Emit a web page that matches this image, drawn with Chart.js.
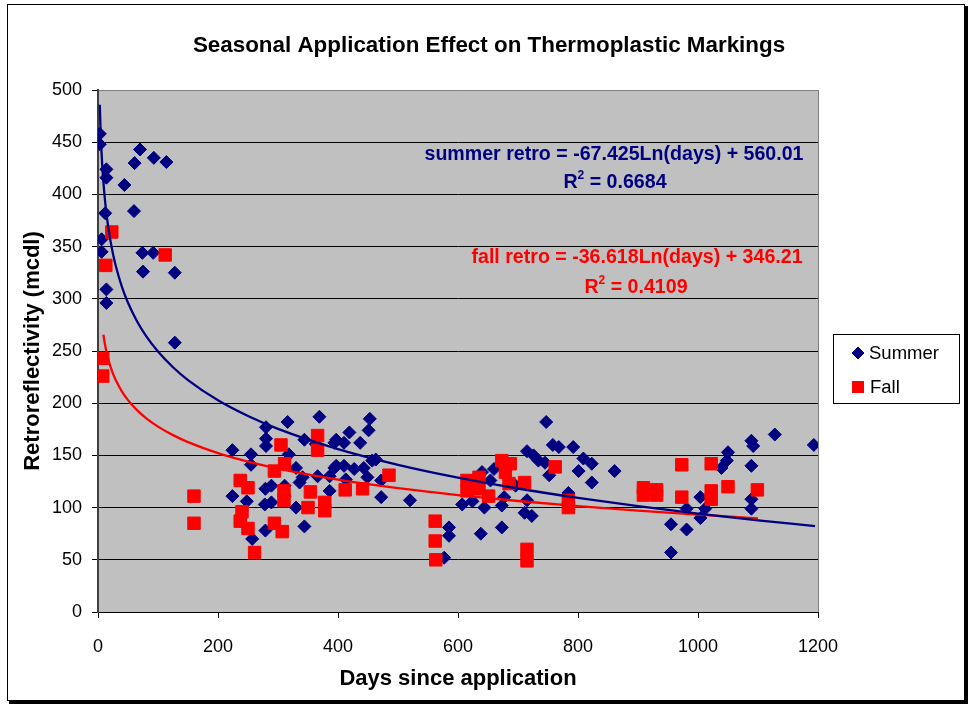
<!DOCTYPE html>
<html>
<head>
<meta charset="utf-8">
<title>Seasonal Application Effect on Thermoplastic Markings</title>
<script src="https://cdn.jsdelivr.net/npm/chart.js@4.4.1/dist/chart.umd.min.js"></script>
<style>
  html, body { margin: 0; padding: 0; background: #fff; }
  #wrap { position: relative; width: 971px; height: 705px; }
</style>
</head>
<body>
<div id="wrap"><canvas id="retroChart"></canvas></div>
<script>
// === Data ===
const summerDays = [3, 3, 14, 14, 44, 70, 61, 93, 114, 12, 60, 6, 6, 74, 92, 75, 128, 14, 14, 128,
  224, 224, 255, 255, 248, 257, 280, 280, 280, 316, 279, 289, 278, 289, 279, 311, 311, 318, 330, 330,
  344, 344, 369, 363, 341, 366, 386, 394, 394, 386, 336,
  453, 451, 397, 419, 410, 437, 397, 410, 427, 443, 463, 449, 472, 413, 472, 520, 457,
  585, 585, 577, 638, 673, 607, 644, 673, 711, 723, 624, 677, 715,
  747, 758, 768, 792, 715, 726, 734, 745, 752, 809, 801, 823, 823, 861, 660, 640, 654, 784, 696,
  955, 955, 981, 981, 1004, 1004, 1012, 1039, 1048, 1050, 1089, 1092, 1089, 1089, 1089, 1128, 1193];
const summerRetro = [458, 448, 424, 416, 409, 443, 430, 435, 431, 382, 384, 357, 345, 344, 344, 326, 325, 309, 296, 258,
  155, 111, 151, 141, 106, 70, 177, 166, 159, 182, 118, 121, 103, 105, 78, 121, 111, 151, 138, 100,
  82, 165, 187, 161, 129, 130, 130, 138, 162, 116, 124,
  185, 174, 165, 172, 162, 162, 140, 140, 137, 138, 146, 129, 126, 127, 110, 107, 145,
  81, 73, 52, 75, 81, 103, 100, 102, 95, 92, 106, 110, 107,
  182, 160, 158, 158, 154, 150, 145, 143, 131, 147, 135, 142, 124, 135, 137, 134, 126, 114, 121,
  57, 84, 79, 99, 110, 90, 99, 138, 145, 153, 164, 159, 140, 108, 99, 170, 160];

const fallDays = [23, 112, 13, 8, 8,
  160, 160, 237, 250, 240, 237, 250, 261, 305, 311, 294, 310, 310, 294, 307, 366, 366, 354, 350, 378, 378,
  485, 412, 441,
  562, 562, 563, 715, 715,
  673, 687, 679, 685, 615, 615, 635, 635, 651, 711, 762, 784, 784,
  909, 909, 931, 931, 973, 973, 1022, 1022, 1022, 1050, 1099];
const fallRetro = [364, 342, 332, 243, 226,
  111, 85, 126, 119, 96, 87, 80, 57, 160, 142, 135, 116, 107, 85, 77, 169, 155, 115, 100, 105, 97,
  131, 117, 118,
  87, 68, 50, 60, 49,
  145, 142, 134, 123, 126, 116, 129, 118, 111, 124, 139, 107, 100,
  119, 112, 117, 112, 141, 110, 142, 116, 108, 120, 117];

// trendline coefficients printed on the chart: retro = a * ln(days) + b
const summerFit = { a: -67.425, b: 560.01, r2: "0.6684", from: 3, to: 1195 };
const fallFit = { a: -36.618, b: 346.21, r2: "0.4109", from: 9, to: 1100 };
const trendDays = [3, 4, 5, 6, 7, 8, 9, 10, 12, 14, 17, 20, 25, 30, 40, 50, 65, 80, 100, 125, 150,
  200, 250, 300, 400, 500, 600, 700, 800, 900, 1000, 1100, 1195];

const xTicks = [0, 200, 400, 600, 800, 1000, 1200];
const yTicks = [0, 50, 100, 150, 200, 250, 300, 350, 400, 450, 500];

const NAVY = "#000080";
const RED = "#FF0000";
const FONT = "'Liberation Sans', Arial, sans-serif";

function toPoints(xs, ys) {
  return xs.map((x, i) => ({ x: x, y: ys[i] }));
}

function trendPoints(fit) {
  return trendDays
    .filter((d) => d >= fit.from && d <= fit.to)
    .concat([fit.to])
    .filter((d, i, arr) => arr.indexOf(d) === i)
    .map((d) => ({ x: d, y: fit.a * Math.log(d) + fit.b }));
}

// === Frame, title, equations and legend ===
const decorPlugin = {
  id: "decor",
  beforeDraw(chart) {
    const ctx = chart.ctx;
    ctx.save();
    ctx.fillStyle = "#fff";
    ctx.fillRect(0, 0, chart.width, chart.height);
    ctx.strokeStyle = "#000";
    ctx.lineWidth = 1;
    ctx.strokeRect(7.5, 4.5, 957, 696);
    ctx.fillStyle = "#000";
    ctx.fillRect(964, 6, 4, 698);
    ctx.fillRect(9, 700, 959, 4);
    // plot area background
    const a = chart.chartArea;
    ctx.fillStyle = "#C0C0C0";
    ctx.fillRect(a.left, a.top, a.right - a.left, a.bottom - a.top);
    ctx.restore();
  },
  afterDraw(chart) {
    const ctx = chart.ctx;
    ctx.save();
    ctx.textAlign = "center";
    ctx.textBaseline = "middle";
    ctx.fillStyle = "#000";
    ctx.font = "bold 22.4px " + FONT;
    ctx.fillText("Seasonal Application Effect on Thermoplastic Markings", 489, 46);

    ctx.font = "bold 19.6px " + FONT;
    ctx.fillStyle = NAVY;
    ctx.fillText("summer retro = -67.425Ln(days) + 560.01", 614, 155);
    drawR2(ctx, summerFit.r2, 615, 183);
    ctx.fillStyle = RED;
    ctx.fillText("fall retro = -36.618Ln(days) + 346.21", 637, 258);
    drawR2(ctx, fallFit.r2, 636, 288);

    // legend box
    ctx.strokeStyle = "#000";
    ctx.lineWidth = 1;
    ctx.strokeRect(833.5, 334.5, 126, 69);
    ctx.fillStyle = NAVY;
    ctx.strokeStyle = NAVY;
    Chart.helpers.drawPoint(ctx, { pointStyle: "rectRot", radius: 6, borderWidth: 1, rotation: 0 }, 858, 353);
    ctx.fillStyle = RED;
    ctx.fillRect(852, 381, 12, 12);
    ctx.fillStyle = "#000";
    ctx.textAlign = "left";
    ctx.font = "18.5px " + FONT;
    ctx.fillText("Summer", 869, 354);
    ctx.fillText("Fall", 870, 388);
    ctx.restore();
  },
};

function drawR2(ctx, value, cx, cy) {
  const main = " = " + value;
  const wR = ctx.measureText("R").width;
  const wMain = ctx.measureText(main).width;
  const base = ctx.font;
  ctx.font = "bold 12px " + FONT;
  const wSup = ctx.measureText("2").width;
  ctx.font = base;
  const x = cx - (wR + wSup + wMain) / 2;
  ctx.save();
  ctx.textAlign = "left";
  ctx.fillText("R", x, cy);
  ctx.fillText(main, x + wR + wSup, cy);
  ctx.font = "bold 12px " + FONT;
  ctx.fillText("2", x + wR, cy - 7);
  ctx.restore();
}

// === Chart ===
function renderChart() {
  new Chart(document.getElementById("retroChart"), {
    type: "scatter",
    data: {
      datasets: [
        {
          label: "summer trend",
          type: "line",
          data: trendPoints(summerFit),
          borderColor: NAVY,
          borderWidth: 2.3,
          pointRadius: 0,
          cubicInterpolationMode: "monotone",
          fill: false,
          order: 0,
        },
        {
          label: "fall trend",
          type: "line",
          data: trendPoints(fallFit),
          borderColor: RED,
          borderWidth: 2.3,
          pointRadius: 0,
          cubicInterpolationMode: "monotone",
          fill: false,
          order: 0,
        },
        {
          label: "Fall",
          data: toPoints(fallDays, fallRetro),
          pointStyle: "rect",
          pointRadius: 8.8,
          backgroundColor: RED,
          borderColor: RED,
          borderWidth: 1,
          order: 1,
        },
        {
          label: "Summer",
          data: toPoints(summerDays, summerRetro),
          pointStyle: "rectRot",
          pointRadius: 6.5,
          backgroundColor: NAVY,
          borderColor: NAVY,
          borderWidth: 1,
          order: 2,
        },
      ],
    },
    options: {
      responsive: true,
      maintainAspectRatio: false,
      animation: false,
      layout: { padding: { left: 10, right: 153, top: 90, bottom: 10 } },
      plugins: {
        legend: { display: false },
        title: { display: false },
        tooltip: { enabled: false },
      },
      scales: {
        x: {
          type: "linear",
          min: 0,
          max: 1200,
          afterFit: (s) => { s.height = 83; },
          afterBuildTicks: (s) => { s.ticks = xTicks.map((v) => ({ value: v })); },
          ticks: {
            color: "#000",
            font: { family: FONT, size: 18 },
            padding: 18,
            maxRotation: 0,
            callback: (v) => String(v),
          },
          grid: {
            color: (c) => (c.tick && c.tick.value === 1200 ? "#808080" : "transparent"),
            tickColor: "#000",
            tickLength: 6,
          },
          border: { color: "#000", width: 1 },
          title: {
            display: true,
            text: "Days since application",
            color: "#000",
            font: { family: FONT, size: 22, weight: "bold" },
            padding: { top: 0, bottom: 3 },
          },
        },
        y: {
          min: 0,
          max: 500,
          afterFit: (s) => { s.width = 88; },
          afterBuildTicks: (s) => { s.ticks = yTicks.map((v) => ({ value: v })); },
          ticks: { color: "#000", font: { family: FONT, size: 18 }, padding: 10, callback: (v) => String(v) },
          grid: {
            color: (c) => (c.tick && c.tick.value === 500 ? "#808080" : (c.tick && c.tick.value === 0 ? "transparent" : "#000")),
            tickColor: "#000",
            tickLength: 6,
          },
          border: { color: "#404040", width: 2 },
          title: {
            display: true,
            text: "Retroreflectivity (mcdl)",
            color: "#000",
            font: { family: FONT, size: 22, weight: "bold" },
            padding: { top: 10, bottom: 0 },
          },
        },
      },
    },
    plugins: [decorPlugin],
  });
}

document.addEventListener("DOMContentLoaded", renderChart);
</script>
</body>
</html>
